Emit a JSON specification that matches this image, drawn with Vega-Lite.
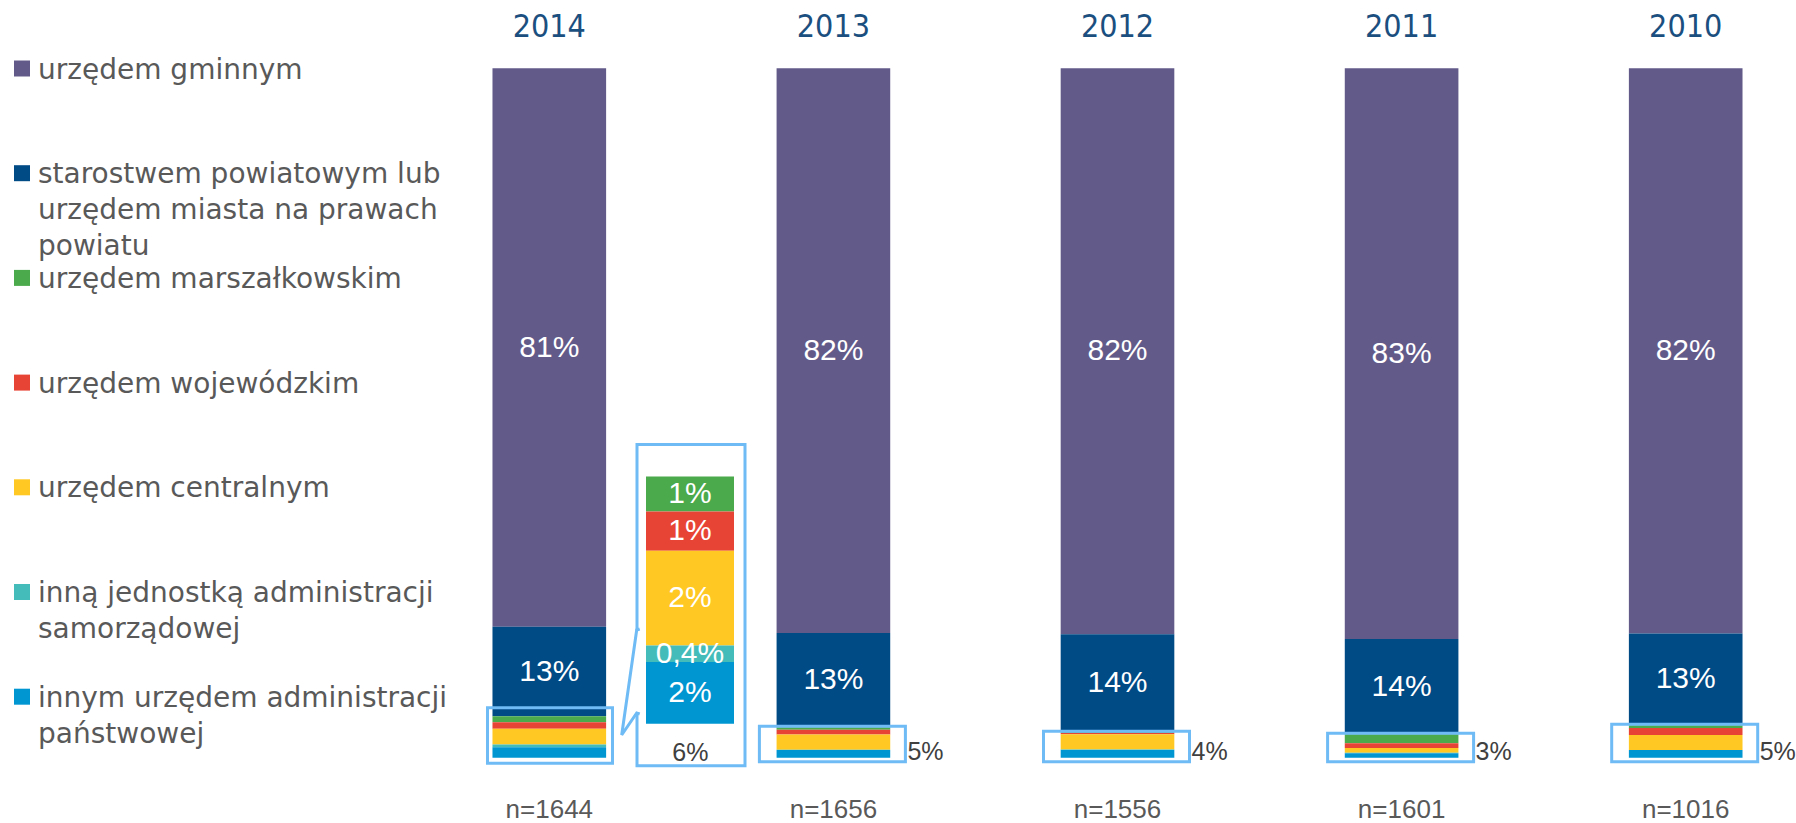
{
  "$schema": "https://vega.github.io/schema/vega-lite/v6.json",
  "width": 1796,
  "height": 823,
  "autosize": {"type": "none"},
  "padding": 0,
  "background": "white",
  "config": {"view": {"stroke": null}},
  "datasets": {
    "vals": [
      {"year": "2014", "cat": "urzędem gminnym", "k": 7, "v": 81.0, "lab": "81%"},
      {"year": "2014", "cat": "starostwem powiatowym lub urzędem miasta na prawach powiatu", "k": 6, "v": 13.0, "lab": "13%"},
      {"year": "2014", "cat": "urzędem marszałkowskim", "k": 5, "v": 0.85, "lab": "1%"},
      {"year": "2014", "cat": "urzędem wojewódzkim", "k": 4, "v": 0.95, "lab": "1%"},
      {"year": "2014", "cat": "urzędem centralnym", "k": 3, "v": 2.3, "lab": "2%"},
      {"year": "2014", "cat": "inną jednostką administracji samorządowej", "k": 2, "v": 0.4, "lab": "0,4%"},
      {"year": "2014", "cat": "innym urzędem administracji państwowej", "k": 1, "v": 1.5, "lab": "2%"},
      {"year": "2013", "cat": "urzędem gminnym", "k": 7, "v": 81.9, "lab": "82%"},
      {"year": "2013", "cat": "starostwem powiatowym lub urzędem miasta na prawach powiatu", "k": 6, "v": 13.7, "lab": "13%"},
      {"year": "2013", "cat": "urzędem marszałkowskim", "k": 5, "v": 0.35, "lab": ""},
      {"year": "2013", "cat": "urzędem wojewódzkim", "k": 4, "v": 0.7, "lab": ""},
      {"year": "2013", "cat": "urzędem centralnym", "k": 3, "v": 2.2, "lab": ""},
      {"year": "2013", "cat": "inną jednostką administracji samorządowej", "k": 2, "v": 0.05, "lab": ""},
      {"year": "2013", "cat": "innym urzędem administracji państwowej", "k": 1, "v": 1.1, "lab": ""},
      {"year": "2012", "cat": "urzędem gminnym", "k": 7, "v": 82.1, "lab": "82%"},
      {"year": "2012", "cat": "starostwem powiatowym lub urzędem miasta na prawach powiatu", "k": 6, "v": 14.2, "lab": "14%"},
      {"year": "2012", "cat": "urzędem marszałkowskim", "k": 5, "v": 0.1, "lab": ""},
      {"year": "2012", "cat": "urzędem wojewódzkim", "k": 4, "v": 0.2, "lab": ""},
      {"year": "2012", "cat": "urzędem centralnym", "k": 3, "v": 2.2, "lab": ""},
      {"year": "2012", "cat": "inną jednostką administracji samorządowej", "k": 2, "v": 0.1, "lab": ""},
      {"year": "2012", "cat": "innym urzędem administracji państwowej", "k": 1, "v": 1.1, "lab": ""},
      {"year": "2011", "cat": "urzędem gminnym", "k": 7, "v": 82.8, "lab": "83%"},
      {"year": "2011", "cat": "starostwem powiatowym lub urzędem miasta na prawach powiatu", "k": 6, "v": 13.8, "lab": "14%"},
      {"year": "2011", "cat": "urzędem marszałkowskim", "k": 5, "v": 1.3, "lab": ""},
      {"year": "2011", "cat": "urzędem wojewódzkim", "k": 4, "v": 0.7, "lab": ""},
      {"year": "2011", "cat": "urzędem centralnym", "k": 3, "v": 0.7, "lab": ""},
      {"year": "2011", "cat": "inną jednostką administracji samorządowej", "k": 2, "v": 0.05, "lab": ""},
      {"year": "2011", "cat": "innym urzędem administracji państwowej", "k": 1, "v": 0.65, "lab": ""},
      {"year": "2010", "cat": "urzędem gminnym", "k": 7, "v": 82.0, "lab": "82%"},
      {"year": "2010", "cat": "starostwem powiatowym lub urzędem miasta na prawach powiatu", "k": 6, "v": 13.3, "lab": "13%"},
      {"year": "2010", "cat": "urzędem marszałkowskim", "k": 5, "v": 0.4, "lab": ""},
      {"year": "2010", "cat": "urzędem wojewódzkim", "k": 4, "v": 1.0, "lab": ""},
      {"year": "2010", "cat": "urzędem centralnym", "k": 3, "v": 2.2, "lab": ""},
      {"year": "2010", "cat": "inną jednostką administracji samorządowej", "k": 2, "v": 0.0, "lab": ""},
      {"year": "2010", "cat": "innym urzędem administracji państwowej", "k": 1, "v": 1.1, "lab": ""}
    ],
    "yrs": [
      {"year": "2014", "n": "n=1644", "tot": "6%"},
      {"year": "2013", "n": "n=1656", "tot": "5%"},
      {"year": "2012", "n": "n=1556", "tot": "4%"},
      {"year": "2011", "n": "n=1601", "tot": "3%"},
      {"year": "2010", "n": "n=1016", "tot": "5%"}
    ]
  },
  "encoding": {
    "x": {
      "field": "year", "type": "nominal", "axis": null,
      "sort": ["2014", "2013", "2012", "2011", "2010"],
      "scale": {"domain": ["2014", "2013", "2012", "2011", "2010"], "range": [407.25, 1827.75], "paddingInner": 0.6, "paddingOuter": 0.3}
    }
  },
  "resolve": {"scale": {"y": "independent"}},
  "layer": [
    {
      "data": {"name": "vals"},
      "layer": [
        {
          "mark": {"type": "bar"},
          "encoding": {
            "y": {"field": "v", "type": "quantitative", "stack": "zero", "axis": null, "scale": {"domain": [0, 100], "range": [757.7, 68.3], "nice": false}},
            "color": {
              "field": "cat", "type": "nominal",
              "scale": {
                "domain": ["urzędem gminnym", "starostwem powiatowym lub urzędem miasta na prawach powiatu", "urzędem marszałkowskim", "urzędem wojewódzkim", "urzędem centralnym", "inną jednostką administracji samorządowej", "innym urzędem administracji państwowej"],
                "range": ["#625B8A", "#004A86", "#4BAA4B", "#E84436", "#FFC822", "#44BCB9", "#0096D2"]
              },
              "legend": {
                "orient": "none", "legendX": 8, "legendY": 54.5, "title": null, "direction": "vertical",
                "symbolType": "square", "symbolSize": 256, "symbolStrokeWidth": 0,
                "labelFont": "DejaVu Sans", "labelFontSize": 28, "labelColor": "#595959", "labelLimit": 700,
                "labelOffset": 2, "labelBaseline": "top", "gridAlign": "all", "rowPadding": 2.7, "padding": 0,
                "labelExpr": "datum.label == 'starostwem powiatowym lub urzędem miasta na prawach powiatu' ? ['starostwem powiatowym lub', 'urzędem miasta na prawach', 'powiatu'] : datum.label == 'inną jednostką administracji samorządowej' ? ['inną jednostką administracji', 'samorządowej'] : datum.label == 'innym urzędem administracji państwowej' ? ['innym urzędem administracji', 'państwowej'] : datum.label",
                "encode": {"labels": {"update": {"y": {"value": 2}, "lineHeight": {"value": 36}}}}
              }
            },
            "order": {"field": "k", "type": "quantitative", "sort": "ascending"}
          }
        },
        {
          "transform": [{"filter": "datum.k <= 5 && datum.year != '2014'"}],
          "mark": {"type": "bar", "width": 146, "fill": "transparent", "stroke": "#6EBBF5", "strokeWidth": 3, "yOffset": -1, "y2Offset": 4, "xOffset": -1},
          "encoding": {
            "y": {"aggregate": "sum", "field": "v", "type": "quantitative", "axis": null, "scale": {"domain": [0, 100], "range": [757.7, 68.3], "nice": false}},
            "y2": {"datum": 0}
          }
        },
        {
          "transform": [{"filter": "datum.k <= 5 && datum.year == '2014'"}],
          "mark": {"type": "bar", "width": 125, "fill": "transparent", "stroke": "#6EBBF5", "strokeWidth": 3, "yOffset": -8.6, "y2Offset": 5.6, "xOffset": 0.7},
          "encoding": {
            "y": {"aggregate": "sum", "field": "v", "type": "quantitative", "axis": null, "scale": {"domain": [0, 100], "range": [757.7, 68.3], "nice": false}},
            "y2": {"datum": 0}
          }
        },
        {
          "transform": [
            {"stack": "v", "groupby": ["year"], "sort": [{"field": "k", "order": "ascending"}], "as": ["v0", "v1"]},
            {"calculate": "(datum.v0 + datum.v1) / 2", "as": "mid"},
            {"filter": "datum.k >= 6"}
          ],
          "mark": {"type": "text", "color": "white", "font": "Liberation Sans", "fontSize": 30},
          "encoding": {
            "y": {"field": "mid", "type": "quantitative", "axis": null, "scale": {"domain": [0, 100], "range": [757.7, 68.3], "nice": false}},
            "text": {"field": "lab"}
          }
        },
        {
          "data": {"name": "yrs"},
          "mark": {"type": "text", "color": "#1B4F80", "font": "Liberation Sans Narrow, DejaVu Sans Condensed, Liberation Sans", "fontSize": 32, "dy": -41},
          "encoding": {
            "y": {"datum": 100, "type": "quantitative", "axis": null, "scale": {"domain": [0, 100], "range": [757.7, 68.3], "nice": false}},
            "text": {"field": "year"}
          }
        },
        {
          "data": {"name": "yrs"},
          "mark": {"type": "text", "color": "#595959", "font": "Liberation Sans", "fontSize": 26, "dy": 52},
          "encoding": {
            "y": {"datum": 0, "type": "quantitative", "axis": null, "scale": {"domain": [0, 100], "range": [757.7, 68.3], "nice": false}},
            "text": {"field": "n"}
          }
        },
        {
          "data": {"name": "yrs"},
          "transform": [{"filter": "datum.year != '2014'"}],
          "mark": {"type": "text", "color": "#404040", "font": "Liberation Sans", "fontSize": 25, "dy": -6, "dx": 74, "align": "left"},
          "encoding": {
            "y": {"datum": 0, "type": "quantitative", "axis": null, "scale": {"domain": [0, 100], "range": [757.7, 68.3], "nice": false}},
            "text": {"field": "tot"}
          }
        },
        {
          "data": {"name": "yrs"},
          "transform": [{"filter": "datum.year == '2014'"}],
          "mark": {"type": "text", "color": "#404040", "font": "Liberation Sans", "fontSize": 25, "dy": -5, "dx": 141, "align": "center"},
          "encoding": {
            "y": {"datum": 0, "type": "quantitative", "axis": null, "scale": {"domain": [0, 100], "range": [757.7, 68.3], "nice": false}},
            "text": {"field": "tot"}
          }
        }
      ]
    },
    {
      "data": {"name": "vals"},
      "transform": [{"filter": "datum.year == '2014' && datum.k <= 5"}],
      "layer": [
        {
          "mark": {"type": "bar", "width": 108, "fill": "transparent", "stroke": "#6EBBF5", "strokeWidth": 3, "xOffset": 141.7, "yOffset": -32, "y2Offset": 42},
          "encoding": {
            "y": {"aggregate": "sum", "field": "v", "type": "quantitative", "axis": null, "scale": {"domain": [0, 6], "range": [723.7, 476.5], "nice": false, "zero": false}},
            "y2": {"datum": 0}
          }
        },
        {
          "transform": [{"filter": "datum.k == 1"}],
          "mark": {"type": "point", "shape": "M0.03,-0.84 L0,-0.83 L-0.15,0.22 L0,0 L0.03,0.01", "size": 40000, "filled": true, "fill": "white", "stroke": "#6EBBF5", "strokeWidth": 3, "opacity": 1, "xOffset": 87.4, "yOffset": -10.7},
          "encoding": {
            "y": {"datum": 0, "type": "quantitative", "axis": null, "scale": {"domain": [0, 6], "range": [723.7, 476.5], "nice": false, "zero": false}}
          }
        },
        {
          "mark": {"type": "bar", "width": 88, "xOffset": 140.7},
          "encoding": {
            "y": {"field": "v", "type": "quantitative", "stack": "zero", "axis": null, "scale": {"domain": [0, 6], "range": [723.7, 476.5], "nice": false, "zero": false}},
            "color": {
              "field": "cat", "type": "nominal",
              "scale": {
                "domain": ["urzędem gminnym", "starostwem powiatowym lub urzędem miasta na prawach powiatu", "urzędem marszałkowskim", "urzędem wojewódzkim", "urzędem centralnym", "inną jednostką administracji samorządowej", "innym urzędem administracji państwowej"],
                "range": ["#625B8A", "#004A86", "#4BAA4B", "#E84436", "#FFC822", "#44BCB9", "#0096D2"]
              }
            },
            "order": {"field": "k", "type": "quantitative", "sort": "ascending"}
          }
        },
        {
          "transform": [
            {"stack": "v", "groupby": ["year"], "sort": [{"field": "k", "order": "ascending"}], "as": ["v0", "v1"]},
            {"calculate": "(datum.v0 + datum.v1) / 2", "as": "mid"}
          ],
          "mark": {"type": "text", "color": "white", "font": "Liberation Sans", "fontSize": 30, "dx": 140.7},
          "encoding": {
            "y": {"field": "mid", "type": "quantitative", "axis": null, "scale": {"domain": [0, 6], "range": [723.7, 476.5], "nice": false, "zero": false}},
            "text": {"field": "lab"}
          }
        }
      ]
    }
  ]
}
